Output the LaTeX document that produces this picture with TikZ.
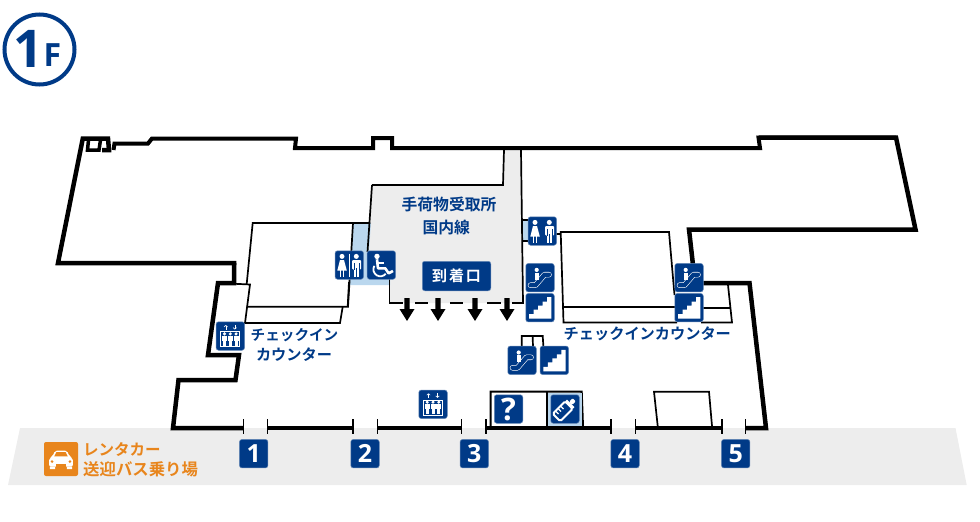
\documentclass[tikz,border=0pt]{standalone}
\usepackage{fontspec}
\usetikzlibrary{arrows.meta}
\setmainfont{Open Sans}[BoldFont={Open Sans Bold}]
\newfontfamily\cjk{Noto Sans CJK JP}[BoldFont={Noto Sans CJK JP Bold}]
\definecolor{navy}{HTML}{003A87}
\definecolor{paleblue}{HTML}{BAD7EE}
\definecolor{floorgray}{HTML}{EDEDED}
\definecolor{carorange}{HTML}{E8851C}
\tikzset{
    wall/.style={line width=4.5pt,line join=miter,black},
    topwall/.style={line width=4pt,line join=miter,black},
    thinwall/.style={line width=1.7pt,black},
    iconbox/.style={fill=navy,draw=navy!60!white,line width=0.5pt,rounded corners=2.5pt,minimum size=28.5pt,inner sep=0pt,outer sep=0pt},
    gatebox/.style={iconbox,text=white,font=\fontsize{25}{25}\selectfont\bfseries},
    maplabel/.style={text=navy,font=\fontsize{15.2}{15.2}\selectfont\cjk\bfseries,inner sep=0pt},
    carlabel/.style={text=carorange,font=\fontsize{15.8}{15.8}\selectfont\cjk\bfseries,inner sep=0pt,anchor=west},
    pics/stairicon/.style={code={
        \fill[white](-11,11)--(-11,6.5)--(-6.5,6.5)--(-6.5,2)--(-2,2)--(-2,-2)--(2.5,-2)--(2.5,-6)--(7,-6)--(7,-10.5)--(11.3,-10.5)--(11.3,11)--cycle;
    }},
    pics/escaicon/.style={code={
        \draw[white,line width=5.5pt,line cap=round,line join=round](-9.5,7.5)--(-4.5,7.5)--(4.5,-3)--(9,-3);
        \draw[navy,line width=4.3pt,line cap=round,line join=round](-9.5,7.5)--(-4.5,7.5)--(4.5,-3)--(9,-3);
        \fill[white](-3.3,-7.8)circle(2.1);
        \fill[white](-5.2,-5)rectangle(-0.8,1.8);
    }},
    pics/liftman/.style={code={
        \fill[white](0,-2.6)circle(1.7);
        \fill[white](-2.5,-0.8)rectangle(2.5,4);
        \fill[white](-1.5,4)rectangle(1.5,9);
    }},
    pics/lifticon/.style={code={
        \draw[white,line width=0.8pt](-9.7,-4.3)rectangle(9.5,10.8);
        \draw[white,line width=0.6pt,-{Straight Barb[length=1.5pt,width=3.5pt]}](-4.5,-6.5)--(-4.5,-11);
        \draw[white,line width=0.6pt,-{Straight Barb[length=1.5pt,width=3.5pt]}](4.5,-11)--(4.5,-6.5);
        \foreach \xpos in {-5.8,0,5.8}
            \pic at (\xpos,0.5) {liftman};
    }},
    pics/ladyman/.style={code={
        \fill[white](-7.3,-8.6)circle(2.5);
        \fill[white](-9.3,-5)--(-5.3,-5)--(-2.5,5.5)--(-12,5.5)--cycle;
        \fill[white](-9.4,5)rectangle(-7.9,11.7);
        \fill[white](-6.7,5)rectangle(-5.2,11.7);
        \fill[white](7,-8.6)circle(2.5);
        \fill[white,rounded corners=1pt](2.7,-5)rectangle(11.8,4.5);
        \fill[white](4.6,0)rectangle(9.6,11.7);
        \draw[navy,line width=0.5pt](7,3)--(7,11.7);
        \draw[navy,line width=0.5pt](4.6,-2)--(4.6,4.5)(9.6,-2)--(9.6,4.5);
    }},
    pics/chairicon/.style={code={
        \fill[white](-4.3,-8.6)circle(2.7);
        \draw[white,line width=2.6pt,line join=round](-4.3,-5.7)--(-3.3,3.3)--(4,3.3)--(7.3,8.3)--(11.7,6);
        \draw[white,line width=1.8pt](-4.3,-1.7)--(2.3,-1.7);
        \draw[white,line width=1.8pt](-7,0.8)arc[start angle=210,end angle=40,radius=7];
    }},
    pics/bottleicon/.style={code={
        \begin{scope}[rotate=-45]
            \draw[white,line width=1.9pt,rounded corners=1.5pt](-5.3,-5.5)rectangle(5.3,12);
            \fill[white](-5.3,-8)rectangle(5.3,-5.5);
            \fill[white,rounded corners=1pt](-2.2,-13)rectangle(2.2,-8);
            \fill[white](-5.3,0.5)rectangle(-1,1.7)(-5.3,4)rectangle(-1,5.2)(-5.3,7.5)rectangle(-1,8.7);
        \end{scope}
    }},
    pics/caricon/.style={code={
        \fill[white,rounded corners=2pt](-14,9)--(-14,-1)--(-10,-3)--(-7,-10)--(7,-10)--(10,-3)--(14,-1)--(14,9)--cycle;
        \fill[carorange](-8,-3)--(-5.5,-8)--(5.5,-8)--(8,-3)--cycle;
        \fill[carorange](-10.5,3)circle(1.7)(10.5,3)circle(1.7);
        \fill[carorange](-6,6)rectangle(6,9);
        \fill[white](-13,9)rectangle(-7,12)(7,9)rectangle(13,12);
    }}
}
\begin{document}
\begin{tikzpicture}[x=1pt,y=-1pt]
    \useasboundingbox (0,0) rectangle (980,522);
    % apron
    \fill[floorgray](20,428)--(955.5,428)--(966.7,485)--(8,485)--cycle;
    % baggage hall
    \fill[floorgray](372,185)--(503,185)--(504,150)--(521,150)--(523,303)--(389,303)--(390,279)--(368,279)--cycle;
    \fill[paleblue](353,223)--(371,223)--(367,279)--(390,279)--(390,285)--(349,285)--cycle;
    \fill[paleblue](522,220)rectangle(530,241);
    % thin lines, left counter
    \draw[thinwall](370,223)--(252.7,223)--(246.7,284);
    \draw[thinwall](218,283)--(250,284.5)--(245,323)--(340,323)--(342.7,306.7);
    \draw[thinwall](246.7,306.7)--(348,306.7)--(353,223);
    \draw[thinwall](349,282)--(347.7,306.7);
    % thin lines, hall
    \draw[thinwall](372,185)--(503,185)--(504,150);
    \draw[thinwall](372,185)--(367.5,252);
    \draw[thinwall](521,150)--(523,303);
    \draw[thinwall](389.5,279)--(389.5,303);
    \draw[thinwall](522,220)--(530,220)(523,241)--(530,241);
    % thin lines, right counter
    \draw[thinwall](556,234)--(561,234);
    \draw[thinwall](677,322.5)--(563.5,322.5)--(560.7,232)--(669,232)--(674.5,295);
    \draw[thinwall](563,306.7)--(676,306.7);
    \draw[thinwall](701,322.5)--(732,322.5)--(728,285);
    \draw[thinwall](703,307.7)--(730,307.7);
    % small rooms
    \draw[thinwall](521.7,348)--(521.7,336)--(542.7,336)--(543.5,348);
    \draw[thinwall](532.7,336)--(533,348);
    \draw[line width=2pt](490.7,427)--(490.7,391.7)--(581.7,391.7)--(583,427);
    \draw[line width=2pt](546.7,391.7)--(546.7,427);
    \draw[thinwall](657.7,426)--(654,391.7)--(709,391.7)--(712,426);
    % outer wall
    \draw[wall](234,265)--(234,263)--(58,263)--(82.8,138.5)--(108,138.5)--(109,150)--(102,150);
    \draw[topwall,line width=3.5pt](88.5,140)--(87.5,150)--(99,150)--(100.5,140);
    \draw[topwall](113.5,150)--(114.5,143.5)--(148,143.5)--(152,138.5)--(296,138.5)--(295,148)--(373,148)--(373,138)--(392,138)--(392,148)--(760,148)--(758.5,137.5)--(896,137.5);
    \draw[wall](758.5,137.5)--(896,137.5)--(915.5,229.5)--(689,229.5)--(693,265);
    \draw[wall](703,283)--(749.5,283)--(766,428)--(746,428);
    \draw[wall](722,428)--(636,428);
    \draw[wall](611,428)--(486,428);
    \draw[wall](461,428)--(378,428);
    \draw[wall](353,428)--(268,428);
    \draw[wall](243,428)--(173,428)--(178.5,380)--(235.5,380)--(239,355)--(208,355)--(218,283)--(234,283)--(234,263);
    % door ticks
    \foreach \xpos in {243.5,267.5,353,377.5,461.5,486,611,635.5,722,745.5}
        \draw[line width=1.5pt](\xpos,419)--(\xpos,433.5);
    % arrivals doors
    \foreach \xa/\xb in {389/403,415/428,450/463,487/501,512/524}
        \draw[line width=2.5pt](\xa,303)--(\xb,303);
    \foreach \xpos in {407,438,475,507}
        \fill[black](\xpos-2.7,298)--(\xpos+2.7,298)--(\xpos+2.7,309)--(\xpos+7.5,309)--(\xpos,321)--(\xpos-7.5,309)--(\xpos-2.7,309)--cycle;
    % floor badge
    \node[draw=navy,line width=4pt,circle,minimum size=70pt,inner sep=0pt] (badge) at (39.5,49.5) {};
    \node[text=navy,font=\fontsize{52}{52}\selectfont\bfseries,inner sep=0pt] (floorone) at (28,48.5) {1};
    \node[text=navy,font=\fontsize{32}{32}\selectfont\bfseries,inner sep=0pt] (floorf) at (52.5,55.5) {F};
    % icons
    \node[iconbox] (wcleft) at (349.3,265) {};
    \pic at (wcleft) {ladyman};
    \draw[white,line width=0.7pt] (349,253.5)--(349,276.5);
    \node[iconbox] (chair) at (381.3,265) {};
    \pic at (chair) {chairicon};
    \node[iconbox] (wcright) at (542.3,231) {};
    \pic at (wcright) {ladyman};
    \node[iconbox] (escone) at (540,277.7) {};
    \pic at (escone) {escaicon};
    \node[iconbox] (stairone) at (540,307.7) {};
    \pic at (stairone) {stairicon};
    \node[iconbox] (esctwo) at (689,277.7) {};
    \pic at (esctwo) {escaicon};
    \node[iconbox] (stairtwo) at (689,307.7) {};
    \pic at (stairtwo) {stairicon};
    \node[iconbox] (escthree) at (522,360.3) {};
    \pic at (escthree) {escaicon};
    \node[iconbox] (stairthree) at (554.3,360.3) {};
    \pic at (stairthree) {stairicon};
    \node[iconbox] (liftone) at (230.3,336) {};
    \pic at (liftone) {lifticon};
    \node[iconbox] (lifttwo) at (433,404.3) {};
    \pic at (lifttwo) {lifticon};
    \node[gatebox,font=\fontsize{31}{31}\selectfont\bfseries] (info) at (508.5,409) {?};
    \fill[paleblue](548,393)rectangle(582,426);
    \node[iconbox] (baby) at (565,409) {};
    \pic at (baby) {bottleicon};
    % gates
    \foreach \gnum/\xpos in {1/253.7,2/365,3/474.3,4/625,5/735.7}
        \node[gatebox] (gate\gnum) at (\xpos,453.7) {\gnum};
    % labels
    \node[maplabel,font=\fontsize{15.8}{15.8}\selectfont\cjk\bfseries] (claim) at (449,204.5) {手荷物受取所};
    \node[maplabel,font=\fontsize{15.8}{15.8}\selectfont\cjk\bfseries] (domestic) at (446.3,228) {国内線};
    \node[iconbox,minimum width=68.5pt,minimum height=29.5pt,text=white,font=\fontsize{15}{15}\selectfont\cjk\bfseries] (arrival) at (456.5,276) {到\hspace{2pt}着\hspace{2pt}口};
    \node[maplabel,font=\fontsize{14.6}{14.6}\selectfont\cjk\bfseries] (counterone) at (294.5,335) {チェックイン};
    \node[maplabel] (countertwo) at (294,355) {カウンター};
    \node[maplabel] (counterthree) at (647.3,334) {チェックインカウンター};
    % rental car
    \node[fill=carorange,rounded corners=2pt,minimum size=34pt,inner sep=0pt] (car) at (61,459) {};
    \pic[scale=0.85] at (car) {caricon};
    \node[carlabel,font=\fontsize{15.5}{15.5}\selectfont\cjk\bfseries] (rental) at (83,450) {レンタカー};
    \node[carlabel,font=\fontsize{16.4}{16.4}\selectfont\cjk\bfseries] (shuttle) at (83,469.3) {送迎バス乗り場};
\end{tikzpicture}
\end{document}
